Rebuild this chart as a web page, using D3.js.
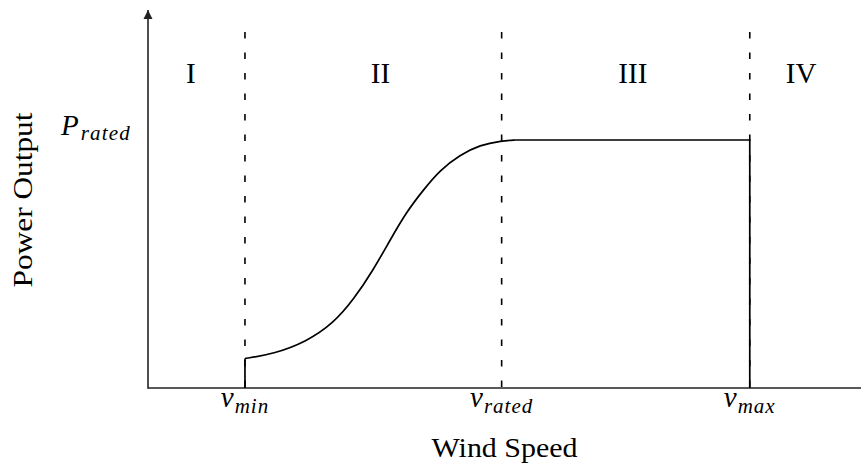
<!DOCTYPE html>
<html>
<head>
<meta charset="utf-8">
<script src="https://cdn.jsdelivr.net/npm/d3@7"></script>
<style>
  html, body { margin: 0; padding: 0; background: #fff; }
  svg { display: block; }
  text { font-family: "Liberation Serif", "Times New Roman", serif; fill: #000; }
</style>
</head>
<body>
<svg id="chart" width="861" height="464"></svg>
<script>
// Idealised wind-turbine power curve (normalised units)
const windDomain = [0, 25];          // wind speed range shown on the x axis
const powerTop = 1.52;               // top of the y axis, relative to rated power

// Characteristic speeds
const vMin = 3.4, vRated = 12.4, vMax = 21.1;

// Smooth rise in region II: [wind speed, power / rated power]
const riseSpeed = [3.4, 4.39, 5.56, 6.5, 7.2, 7.9, 8.49, 9.07, 9.65, 10.24, 10.94, 11.64, 12.4, 12.9];
const risePower = [0.119, 0.137, 0.187, 0.261, 0.355, 0.476, 0.597, 0.711, 0.798, 0.879, 0.94, 0.98, 0.997, 1.0];
const ratedPower = 1.0;

// Axis tick labels at the characteristic speeds
const tickSpeeds = [vMin, vRated, vMax];
const tickSubs = ["min", "rated", "max"];

// Operating regions
const regionNames = ["I", "II", "III", "IV"];
const regionSpeeds = [1.5, 8.15, 17.0, 22.9];

const svg = d3.select("#chart");

const x = d3.scaleLinear().domain(windDomain).range([148, 861]);
const y = d3.scaleLinear().domain([0, ratedPower]).range([388, 140]);

// Arrow marker for the y axis
svg.append("defs").append("marker")
  .attr("id", "arrow")
  .attr("viewBox", "0 0 10 10")
  .attr("refX", 10).attr("refY", 5)
  .attr("markerWidth", 9).attr("markerHeight", 11)
  .attr("markerUnits", "userSpaceOnUse")
  .attr("orient", "auto")
  .append("path")
  .attr("d", "M0,0 L10,5 L0,10 Z")
  .attr("fill", "#222");

// Region boundaries
svg.append("g")
  .selectAll("line")
  .data(tickSpeeds)
  .join("line")
  .attr("x1", d => x(d)).attr("x2", d => x(d))
  .attr("y1", 30).attr("y2", y(0))
  .attr("stroke", "#000")
  .attr("stroke-width", 1.6)
  .attr("stroke-dasharray", "6.5,14")
  .attr("stroke-dashoffset", -2);

// Axes
svg.append("line")
  .attr("x1", x(0)).attr("x2", x(windDomain[1]))
  .attr("y1", y(0)).attr("y2", y(0))
  .attr("stroke", "#222").attr("stroke-width", 1.6);

svg.append("line")
  .attr("x1", x(0)).attr("x2", x(0))
  .attr("y1", y(0) + 0.8).attr("y2", y(powerTop) - 1)
  .attr("stroke", "#222").attr("stroke-width", 1.6)
  .attr("marker-end", "url(#arrow)");

// Power curve
const riseLine = d3.line()
  .x(d => x(d[0])).y(d => y(d[1]))
  .curve(d3.curveBasis);
const rise = riseSpeed.map((s, i) => [s, risePower[i]]);

const linear = d3.line().x(d => x(d[0])).y(d => y(d[1]));

const curve = svg.append("g")
  .attr("fill", "none")
  .attr("stroke", "#000")
  .attr("stroke-width", 1.7)
  .attr("stroke-linejoin", "miter");

curve.append("path")
  .attr("d", linear([[vMin, 0], rise[0]]));
curve.append("path")
  .attr("d", riseLine(rise));
curve.append("path")
  .attr("d", linear([rise[rise.length - 1], [vMax, ratedPower], [vMax, 0]]));

// Region labels
svg.append("g")
  .selectAll("text")
  .data(regionNames)
  .join("text")
  .attr("x", (d, i) => x(regionSpeeds[i]))
  .attr("y", 83)
  .attr("text-anchor", "middle")
  .attr("font-size", 29)
  .text(d => d);

// Speed tick labels: v with an italic subscript
const ticks = svg.append("g")
  .selectAll("text")
  .data(tickSpeeds)
  .join("text")
  .attr("x", d => x(d))
  .attr("y", 407)
  .attr("text-anchor", "middle")
  .attr("font-style", "italic");
ticks.append("tspan").attr("font-size", 29).text("v");
ticks.append("tspan").attr("font-size", 21).attr("dy", 6).attr("dx", 1)
  .attr("letter-spacing", 1).text((d, i) => tickSubs[i]);

// Rated power label
const pLabel = svg.append("text")
  .attr("x", 61)
  .attr("y", 135)
  .attr("font-style", "italic");
pLabel.append("tspan").attr("font-size", 29).text("P");
pLabel.append("tspan").attr("font-size", 21).attr("dy", 5).attr("dx", 2)
  .attr("letter-spacing", 1.2).text("rated");

// Axis titles
svg.append("text")
  .attr("x", (x(0) + x(windDomain[1])) / 2)
  .attr("y", 457)
  .attr("text-anchor", "middle")
  .attr("font-size", 28)
  .attr("textLength", 146)
  .attr("lengthAdjust", "spacingAndGlyphs")
  .text("Wind Speed");

svg.append("text")
  .attr("transform", "translate(32,200) rotate(-90)")
  .attr("text-anchor", "middle")
  .attr("font-size", 28)
  .attr("textLength", 175)
  .attr("lengthAdjust", "spacingAndGlyphs")
  .text("Power Output");
</script>
</body>
</html>
